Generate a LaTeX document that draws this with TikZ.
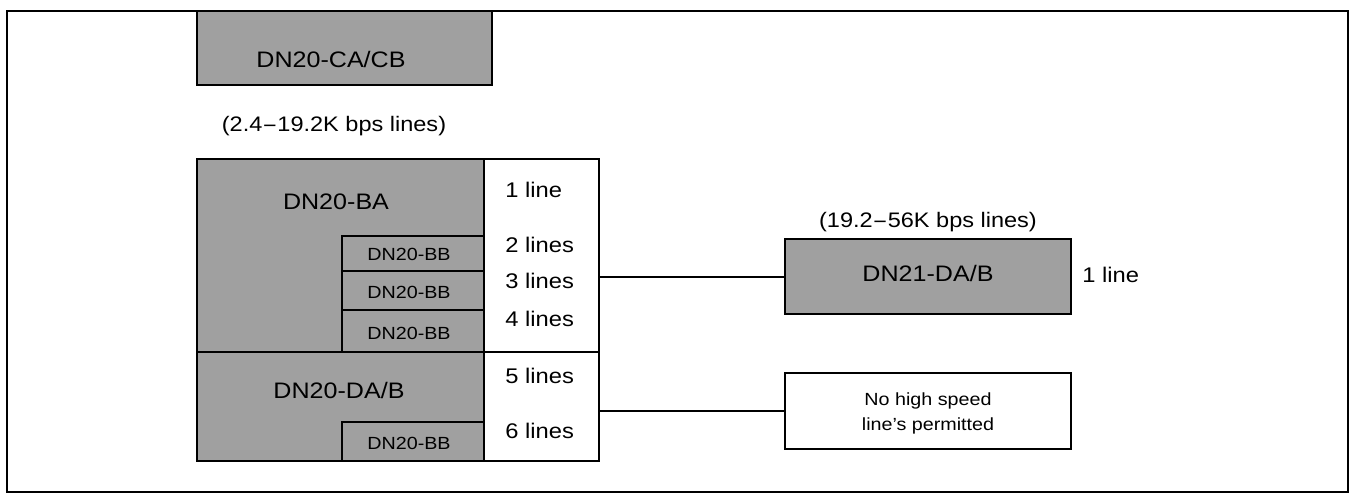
\documentclass[tikz,border=0pt]{standalone}
\usepackage{fontspec}
\setmainfont{Liberation Sans}[FakeStretch=1.12]
\usetikzlibrary{fit}
\definecolor{shade}{RGB}{160,160,160}
\tikzset{
  box/.style={draw=black, line width=1pt, inner sep=0pt},
  gbox/.style={box, fill=shade},
  wbox/.style={box, fill=white},
  big/.style={font=\fontsize{11.2}{13}\selectfont, inner sep=0pt, anchor=base},
  mid/.style={font=\fontsize{10.6}{12}\selectfont, inner sep=0pt, anchor=base west},
  par/.style={font=\fontsize{10.5}{12}\selectfont, inner sep=0pt, anchor=base},
  small/.style={font=\fontsize{8.8}{10}\selectfont, inner sep=0pt, anchor=base},
  conn/.style={draw=black, line width=1pt},
  frame/.style={draw=black, line width=0.8pt}
}
\begin{document}
\begin{tikzpicture}[x=0.5pt, y=-0.5pt]
\useasboundingbox (0,0) rectangle (1351,498);
\node[frame, inner sep=0pt, fit={(7,11)(1348,492)}] (frm) {};

% top module
\node[gbox, fit={(197,11)(492,85)}] (ca) {};
\node[big] (calab) at (331,68) {DN20-CA/CB};

\node[par] (lowspeed) at (334,131) {(2.4{\fontspec{DejaVu Sans}\fontsize{9}{10}\selectfont−}19.2K bps lines)};

% main stack
\node[gbox, fit={(197,159)(484,352)}] (ba) {};
\node[gbox, fit={(342,236)(484,271)}] (bb1) {};
\node[gbox, fit={(342,271)(484,310)}] (bb2) {};
\node[gbox, fit={(342,310)(484,352)}] (bb3) {};
\node[gbox, fit={(197,352)(484,461)}] (da) {};
\node[gbox, fit={(342,422)(484,461)}] (bb4) {};
\node[wbox, fit={(484,159)(599,352)}] (col1) {};
\node[wbox, fit={(484,352)(599,461)}] (col2) {};

\node[big] (balab) at (336,209) {DN20-BA};
\node[big] (dalab) at (339,398) {DN20-DA/B};
\node[small] (bb1lab) at (409,260) {DN20-BB};
\node[small] (bb2lab) at (409,298) {DN20-BB};
\node[small] (bb3lab) at (409,339) {DN20-BB};
\node[small] (bb4lab) at (409,449) {DN20-BB};

\node[mid] (l1) at (505,197) {1 line};
\node[mid] (l2) at (505,252) {2 lines};
\node[mid] (l3) at (505,288) {3 lines};
\node[mid] (l4) at (505,326) {4 lines};
\node[mid] (l5) at (505,383) {5 lines};
\node[mid] (l6) at (505,438) {6 lines};

% right side
\node[par] (highspeed) at (928,227) {(19.2{\fontspec{DejaVu Sans}\fontsize{9}{10}\selectfont−}56K bps lines)};
\node[gbox, fit={(785,239)(1071,314)}] (dn21) {};
\node[big] (dn21lab) at (928,281) {DN21-DA/B};
\node[mid] (r1) at (1082,282) {1 line};

\node[wbox, fit={(785,373)(1071,449)}] (nohs) {};
\node[small] (nh1) at (928,405) {No high speed};
\node[small] (nh2) at (928,430) {line’s permitted};

% connectors
\draw[conn] (col1.east |- dn21.west) -- (dn21.west);
\draw[conn] (col2.east |- nohs.west) -- (nohs.west);
\end{tikzpicture}
\end{document}
